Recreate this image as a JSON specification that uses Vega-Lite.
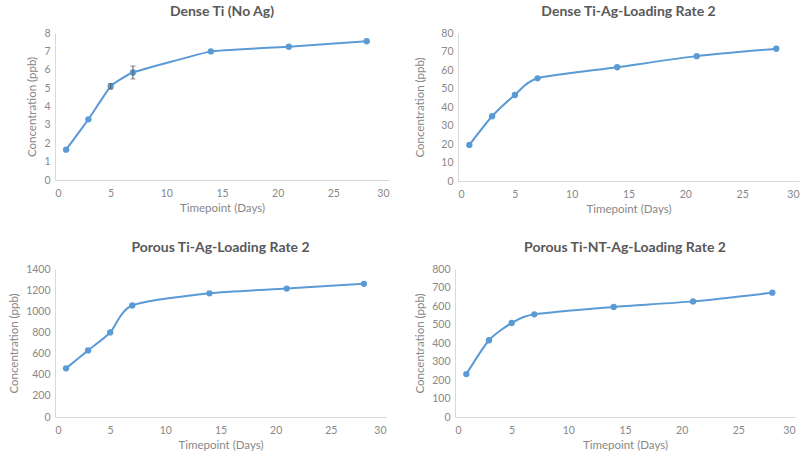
{
  "$schema": "https://vega.github.io/schema/vega-lite/v6.json",
  "background": "white",
  "padding": {"left": 8, "top": 5, "right": 5, "bottom": 0},
  "columns": 2,
  "align": "none",
  "spacing": {"row": 26, "column": 25},
  "config": {
    "font": "Lato",
    "view": {"stroke": null},
    "title": {"fontSize": 14, "fontWeight": "bold", "color": "#595959", "offset": 9, "font": "Lato"},
    "axis": {
      "grid": false, "ticks": false, "domainColor": "#d9d9d9", "domainWidth": 1,
      "labelColor": "#888888", "labelFontSize": 10.5, "labelPadding": 5, "format": "d",
      "titleColor": "#888888", "titleFontSize": 11.5, "titleFontWeight": "normal", "titlePadding": 6
    },
    "axisX": {"labelPadding": 8, "titlePadding": 4}
  },
  "datasets": {
    "d": [
      {"panel": "A", "day": 1, "value": 1.65, "lo": 1.6, "hi": 1.7},
      {"panel": "A", "day": 3, "value": 3.3, "lo": 3.25, "hi": 3.35},
      {"panel": "A", "day": 5, "value": 5.1, "lo": 4.95, "hi": 5.25},
      {"panel": "A", "day": 7, "value": 5.85, "lo": 5.5, "hi": 6.2},
      {"panel": "A", "day": 14, "value": 7.0, "lo": 7.0, "hi": 7.0},
      {"panel": "A", "day": 21, "value": 7.25, "lo": 7.25, "hi": 7.25},
      {"panel": "A", "day": 28, "value": 7.55, "lo": 7.55, "hi": 7.55},
      {"panel": "B", "day": 1, "value": 19.5},
      {"panel": "B", "day": 3, "value": 35},
      {"panel": "B", "day": 5, "value": 46.5},
      {"panel": "B", "day": 7, "value": 55.5},
      {"panel": "B", "day": 14, "value": 61.5},
      {"panel": "B", "day": 21, "value": 67.5},
      {"panel": "B", "day": 28, "value": 71.5},
      {"panel": "C", "day": 1, "value": 460},
      {"panel": "C", "day": 3, "value": 630},
      {"panel": "C", "day": 5, "value": 800},
      {"panel": "C", "day": 7, "value": 1055},
      {"panel": "C", "day": 14, "value": 1170},
      {"panel": "C", "day": 21, "value": 1215},
      {"panel": "C", "day": 28, "value": 1260},
      {"panel": "D", "day": 1, "value": 232},
      {"panel": "D", "day": 3, "value": 415},
      {"panel": "D", "day": 5, "value": 508},
      {"panel": "D", "day": 7, "value": 555},
      {"panel": "D", "day": 14, "value": 595},
      {"panel": "D", "day": 21, "value": 625},
      {"panel": "D", "day": 28, "value": 672}
    ]
  },
  "concat": [
    {
      "title": "Dense Ti (No Ag)",
      "width": 334, "height": 147,
      "data": {"name": "d"},
      "transform": [{"filter": "datum.panel === 'A'"}],
      "encoding": {
        "x": {"field": "day", "type": "quantitative", "scale": {"domain": [0, 30]}, "axis": {"values": [0,5,10,15,20,25,30], "title": "Timepoint (Days)"}},
        "y": {"field": "value", "type": "quantitative", "scale": {"domain": [0, 8]}, "axis": {"values": [0,1,2,3,4,5,6,7,8], "title": "Concentration (ppb)", "minExtent": 0}}
      },
      "layer": [
        {"mark": {"type": "line", "color": "#5b9bd5", "strokeWidth": 2, "interpolate": "cardinal", "tension": 0.7}},
        {"mark": {"type": "point", "filled": true, "opacity": 1, "color": "#5b9bd5", "size": 40}},
        {"transform": [{"filter": "datum.hi - datum.lo > 0.2"}],
         "mark": {"type": "errorbar", "ticks": {"size": 5}, "color": "#595959", "thickness": 1},
         "encoding": {"y": {"field": "lo", "type": "quantitative"}, "y2": {"field": "hi"}}}
      ]
    },
    {
      "title": "Dense Ti-Ag-Loading Rate 2",
      "width": 341, "height": 148,
      "data": {"name": "d"},
      "transform": [{"filter": "datum.panel === 'B'"}],
      "encoding": {
        "x": {"field": "day", "type": "quantitative", "scale": {"domain": [0, 30]}, "axis": {"values": [0,5,10,15,20,25,30], "title": "Timepoint (Days)"}},
        "y": {"field": "value", "type": "quantitative", "scale": {"domain": [0, 80]}, "axis": {"values": [0,10,20,30,40,50,60,70,80], "title": "Concentration (ppb)", "minExtent": 27}}
      },
      "layer": [
        {"mark": {"type": "line", "color": "#5b9bd5", "strokeWidth": 2, "interpolate": "cardinal", "tension": 0.3}},
        {"mark": {"type": "point", "filled": true, "opacity": 1, "color": "#5b9bd5", "size": 40}}
      ]
    },
    {
      "title": "Porous Ti-Ag-Loading Rate 2",
      "width": 331, "height": 148,
      "data": {"name": "d"},
      "transform": [{"filter": "datum.panel === 'C'"}],
      "encoding": {
        "x": {"field": "day", "type": "quantitative", "scale": {"domain": [0, 30]}, "axis": {"values": [0,5,10,15,20,25,30], "title": "Timepoint (Days)"}},
        "y": {"field": "value", "type": "quantitative", "scale": {"domain": [0, 1400]}, "axis": {"values": [0,200,400,600,800,1000,1200,1400], "title": "Concentration (ppb)", "minExtent": 0}}
      },
      "layer": [
        {"mark": {"type": "line", "color": "#5b9bd5", "strokeWidth": 2, "interpolate": "cardinal", "tension": 0.3}},
        {"mark": {"type": "point", "filled": true, "opacity": 1, "color": "#5b9bd5", "size": 40}}
      ]
    },
    {
      "title": "Porous Ti-NT-Ag-Loading Rate 2",
      "width": 340, "height": 148,
      "data": {"name": "d"},
      "transform": [{"filter": "datum.panel === 'D'"}],
      "encoding": {
        "x": {"field": "day", "type": "quantitative", "scale": {"domain": [0, 30]}, "axis": {"values": [0,5,10,15,20,25,30], "title": "Timepoint (Days)"}},
        "y": {"field": "value", "type": "quantitative", "scale": {"domain": [0, 800]}, "axis": {"values": [0,100,200,300,400,500,600,700,800], "title": "Concentration (ppb)", "minExtent": 0}}
      },
      "layer": [
        {"mark": {"type": "line", "color": "#5b9bd5", "strokeWidth": 2, "interpolate": "cardinal", "tension": 0.3}},
        {"mark": {"type": "point", "filled": true, "opacity": 1, "color": "#5b9bd5", "size": 40}}
      ]
    }
  ]
}
